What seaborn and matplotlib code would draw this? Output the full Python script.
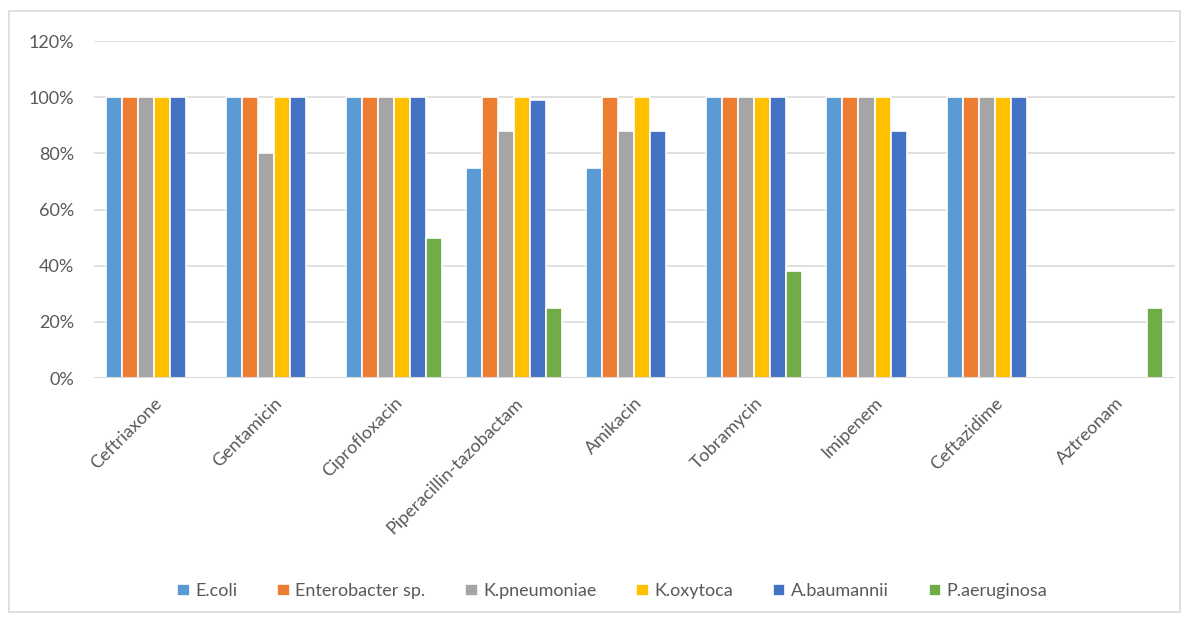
import pandas as pd
import matplotlib
matplotlib.use("Agg")
import matplotlib.pyplot as plt
import seaborn as sns
from matplotlib.patches import Rectangle
from matplotlib.ticker import FuncFormatter

antibiotics = ['Ceftriaxone', 'Gentamicin', 'Ciprofloxacin', 'Piperacillin-tazobactam',
               'Amikacin', 'Tobramycin', 'Imipenem', 'Ceftazidime', 'Aztreonam']

e_coli = [100, 100, 100, 75, 75, 100, 100, 100, 0]
enterobacter = [100, 100, 100, 100, 100, 100, 100, 100, 0]
k_pneumoniae = [100, 80, 100, 88, 88, 100, 100, 100, 0]
k_oxytoca = [100, 100, 100, 100, 100, 100, 100, 100, 0]
a_baumannii = [100, 100, 100, 99, 88, 100, 88, 100, 0]
p_aeruginosa = [0, 0, 50, 25, 0, 38, 0, 0, 25]

series = {
    'E.coli': e_coli,
    'Enterobacter sp.': enterobacter,
    'K.pneumoniae': k_pneumoniae,
    'K.oxytoca': k_oxytoca,
    'A.baumannii': a_baumannii,
    'P.aeruginosa': p_aeruginosa,
}
colors = ['#5B9BD5', '#ED7D31', '#A5A5A5', '#FFC000', '#4472C4', '#70AD47']

rows = []
for name, vals in series.items():
    for ab, v in zip(antibiotics, vals):
        rows.append({'antibiotic': ab, 'organism': name, 'value': v})
df = pd.DataFrame(rows)

sns.set_style('white')
plt.rcParams['font.family'] = ['Lato', 'DejaVu Sans']

fig = plt.figure(figsize=(11.89, 6.23), dpi=100)
ax = fig.add_axes([0.079, 0.393, 0.909, 0.541])

sns.barplot(data=df, x='antibiotic', y='value', hue='organism',
            palette=colors, width=0.8, ax=ax,
            edgecolor='white', linewidth=1.2, saturation=1, errorbar=None)

ax.set_ylim(0, 120)
ax.set_yticks(range(0, 121, 20))
ax.yaxis.set_major_formatter(FuncFormatter(lambda v, p: f'{int(v)}%'))
ax.grid(axis='y', color='#D9D9D9', linewidth=1.2)
ax.set_axisbelow(True)
for s in ax.spines.values():
    s.set_visible(False)
ax.axhline(0, color='#D9D9D9', linewidth=1.5, zorder=5)

ax.set_xlabel('')
ax.set_ylabel('')
ax.tick_params(axis='both', length=0, labelsize=13, colors='#595959')
ax.tick_params(axis='x', pad=12)
ax.tick_params(axis='y', pad=14)
plt.setp(ax.get_xticklabels(), rotation=45, ha='right', rotation_mode='anchor')

ax.legend(loc='center', ncol=6, frameon=False, fontsize=13,
          handlelength=0.7, handleheight=0.7, columnspacing=2.2,
          handletextpad=0.3, labelcolor='#595959')
ax.get_legend().set_bbox_to_anchor((0.515, 0.051), transform=fig.transFigure)

fig.patches.append(Rectangle((9 / 1189, 11 / 623), 1171 / 1189, 601 / 623,
                             transform=fig.transFigure, fill=False,
                             edgecolor='#D9D9D9', linewidth=1.2))

fig.savefig('out.png', dpi=100)
